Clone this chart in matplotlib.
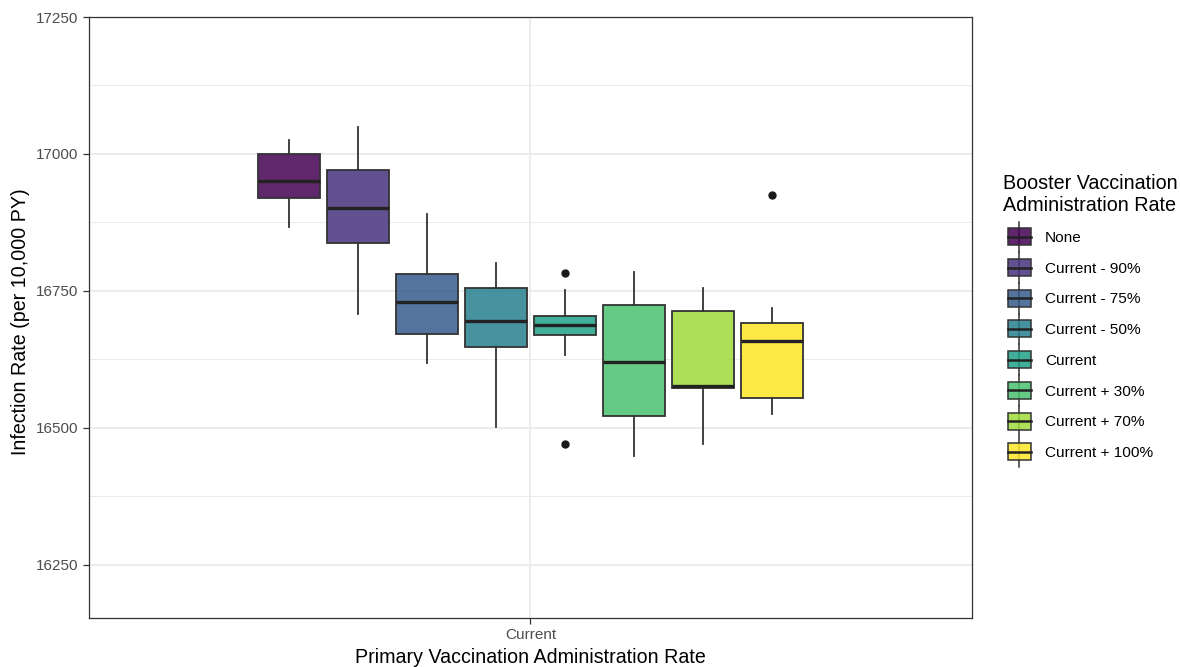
import matplotlib
matplotlib.use("Agg")
import matplotlib.pyplot as plt
from matplotlib.legend_handler import HandlerBase
from matplotlib.patches import Rectangle, Patch
from matplotlib.lines import Line2D
from matplotlib.ticker import MultipleLocator

plt.rcParams['font.family'] = ['Liberation Sans', 'DejaVu Sans']

# booster levels and the box statistics
groups = ['None', 'Current - 90%', 'Current - 75%', 'Current - 50%',
          'Current', 'Current + 30%', 'Current + 70%', 'Current + 100%']
colors = ['#440154', '#46337E', '#365C8D', '#277F8E',
          '#1FA187', '#4AC16D', '#9FDA3A', '#FDE725']
whisker_lo = [16866, 16707, 16619, 16501, 16633, 16449, 16471, 16525]
q1 = [16919, 16837, 16671, 16648, 16669, 16521, 16572, 16554]
median = [16950, 16902, 16729, 16695, 16687, 16620, 16577, 16658]
q3 = [17000, 16970, 16780, 16755, 16704, 16724, 16713, 16691]
whisker_hi = [17026, 17050, 16891, 16801, 16752, 16784, 16755, 16719]
outliers = [[], [], [], [], [16782, 16470], [], [], [16926]]
x_labels = ['Current']

EDGE = '#333333'
ALPHA = 0.85

fig = plt.figure(figsize=(11.8, 6.67), dpi=100)
ax = fig.add_axes([0.0754, 0.0735, 0.7483, 0.901])

n = len(groups)
dodge = 0.75 / n
positions = [1 + (i - (n - 1) / 2) * dodge for i in range(n)]

stats = []
for i in range(n):
    stats.append(dict(med=median[i], q1=q1[i], q3=q3[i],
                      whislo=whisker_lo[i], whishi=whisker_hi[i],
                      fliers=outliers[i], label=groups[i]))

bp = ax.bxp(stats, positions=positions, widths=dodge * 0.9,
            patch_artist=True, showcaps=False, manage_ticks=False,
            boxprops=dict(edgecolor=EDGE, linewidth=1.3),
            medianprops=dict(color='#222222', linewidth=2.4),
            whiskerprops=dict(color=EDGE, linewidth=1.3),
            flierprops=dict(marker='o', markerfacecolor='#1a1a1a',
                            markeredgecolor='#1a1a1a', markersize=5))
for patch, c in zip(bp['boxes'], colors):
    patch.set_facecolor(matplotlib.colors.to_rgba(c, ALPHA))

ax.set_xlim(0.4, 1.6)
ax.set_ylim(16153, 17250)
ax.set_xticks([1])
ax.set_xticklabels(x_labels)
ax.yaxis.set_major_locator(MultipleLocator(250))
ax.yaxis.set_minor_locator(MultipleLocator(125))
ax.tick_params(axis='both', which='major', labelsize=11, colors='#333333',
               labelcolor='#4d4d4d', length=4, width=0.9)
ax.tick_params(axis='y', which='minor', length=0)
ax.grid(True, which='major', color='#ebebeb', linewidth=1.3)
ax.grid(True, which='minor', axis='y', color='#ebebeb', linewidth=0.7)
ax.set_axisbelow(True)
for s in ax.spines.values():
    s.set_color('#333333')
    s.set_linewidth(0.9)

ax.set_xlabel('Primary Vaccination Administration Rate', fontsize=14.1, labelpad=4)
ax.set_ylabel('Infection Rate (per 10,000 PY)', fontsize=14.1)
ax.yaxis.set_label_coords(-0.0663, 0.4925)


class BoxKey(HandlerBase):
    def create_artists(self, legend, orig_handle, xdescent, ydescent,
                       width, height, fontsize, trans):
        x0, y0 = -xdescent + 3.6, -ydescent
        cx = x0 + width / 2
        fc = orig_handle.get_facecolor()
        whisk = Line2D([cx, cx], [y0 - 0.4 * height, y0 + 1.4 * height],
                       color=EDGE, linewidth=1.1, transform=trans)
        box = Rectangle((x0, y0), width, height, facecolor=fc,
                        edgecolor=EDGE, linewidth=1.1, transform=trans)
        med = Line2D([x0, x0 + width], [y0 + height / 2] * 2,
                     color='#222222', linewidth=1.8, transform=trans)
        return [whisk, box, med]


handles = [Patch(facecolor=matplotlib.colors.to_rgba(c, ALPHA)) for c in colors]
leg = ax.legend(handles, groups, handler_map={Patch: BoxKey()},
                loc='upper left', bbox_to_anchor=(1.028, 0.7497),
                frameon=False, fontsize=11.1,
                title='Booster Vaccination\nAdministration Rate',
                title_fontsize=14.2, handlelength=1.5, handleheight=1.32,
                labelspacing=0.89, handletextpad=1.22, borderaxespad=0)
leg._legend_box.align = 'left'

fig.savefig('out.png', dpi=100)
